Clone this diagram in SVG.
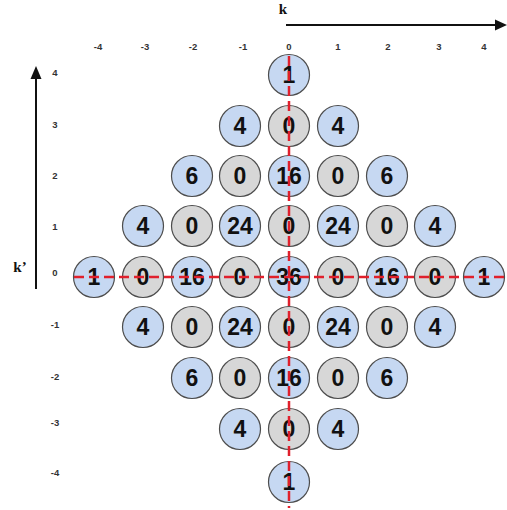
<svg xmlns="http://www.w3.org/2000/svg" width="507" height="510" viewBox="0 0 507 510">
<defs>
<style>
.b{fill:#c6d8f2;stroke:#4d4d4d;stroke-width:1.2}
.g{fill:#d7d7d7;stroke:#4d4d4d;stroke-width:1.2}
.v{font-family:"Liberation Sans",Arial,sans-serif;font-weight:bold;font-size:23px;fill:#111;text-anchor:middle}
.t{font-family:"Liberation Sans",Arial,sans-serif;font-weight:bold;font-size:9.5px;fill:#333;text-anchor:middle}
.ax{font-family:"Liberation Serif","Times New Roman",serif;font-weight:bold;font-size:15px;fill:#111;text-anchor:middle}
.d{stroke:#e0202c;stroke-width:2.5;stroke-dasharray:10 5;fill:none}
</style>
</defs>
<rect width="507" height="510" fill="#fff"/>
<g id="axes">
<line x1="286" y1="25" x2="497" y2="25" stroke="#111" stroke-width="2"/>
<polygon points="507,25 495,19.5 495,30.5" fill="#111"/>
<line x1="36" y1="76" x2="36" y2="289" stroke="#111" stroke-width="2"/>
<polygon points="36,66 30.5,79 41.5,79" fill="#111"/>
<text class="ax" x="283" y="14">k</text>
<text class="ax" x="20" y="272">k’</text>
</g>
<g id="col-labels">
<text class="t" x="98" y="50">-4</text>
<text class="t" x="145" y="50">-3</text>
<text class="t" x="193" y="50">-2</text>
<text class="t" x="243" y="50">-1</text>
<text class="t" x="289" y="50">0</text>
<text class="t" x="338" y="50">1</text>
<text class="t" x="388" y="50">2</text>
<text class="t" x="439" y="50">3</text>
<text class="t" x="484" y="50">4</text>
</g>
<g id="row-labels">
<text class="t" x="55" y="76">4</text>
<text class="t" x="55" y="128">3</text>
<text class="t" x="55" y="179">2</text>
<text class="t" x="55" y="230">1</text>
<text class="t" x="55" y="276">0</text>
<text class="t" x="55" y="328">-1</text>
<text class="t" x="55" y="380">-2</text>
<text class="t" x="55" y="426">-3</text>
<text class="t" x="55" y="476">-4</text>
</g>
<g id="r4"><g id="n_0_4"><circle class="b" cx="289" cy="75" r="20.5"/><text class="v" x="289" y="83">1</text></g></g>
<g id="r3">
<g id="n_m1_3"><circle class="b" cx="240" cy="126" r="20.5"/><text class="v" x="240" y="134">4</text></g>
<g id="n_0_3"><circle class="g" cx="289" cy="126" r="20.5"/><text class="v" x="289" y="134">0</text></g>
<g id="n_1_3"><circle class="b" cx="338" cy="126" r="20.5"/><text class="v" x="338" y="134">4</text></g>
</g>
<g id="r2">
<g id="n_m2_2"><circle class="b" cx="192" cy="176" r="20.5"/><text class="v" x="192" y="184">6</text></g>
<g id="n_m1_2"><circle class="g" cx="240" cy="176" r="20.5"/><text class="v" x="240" y="184">0</text></g>
<g id="n_0_2"><circle class="b" cx="289" cy="176" r="20.5"/><text class="v" x="289" y="184">16</text></g>
<g id="n_1_2"><circle class="g" cx="338" cy="176" r="20.5"/><text class="v" x="338" y="184">0</text></g>
<g id="n_2_2"><circle class="b" cx="387" cy="176" r="20.5"/><text class="v" x="387" y="184">6</text></g>
</g>
<g id="r1">
<g id="n_m3_1"><circle class="b" cx="143" cy="226" r="20.5"/><text class="v" x="143" y="234">4</text></g>
<g id="n_m2_1"><circle class="g" cx="192" cy="226" r="20.5"/><text class="v" x="192" y="234">0</text></g>
<g id="n_m1_1"><circle class="b" cx="240" cy="226" r="20.5"/><text class="v" x="240" y="234">24</text></g>
<g id="n_0_1"><circle class="g" cx="289" cy="226" r="20.5"/><text class="v" x="289" y="234">0</text></g>
<g id="n_1_1"><circle class="b" cx="338" cy="226" r="20.5"/><text class="v" x="338" y="234">24</text></g>
<g id="n_2_1"><circle class="g" cx="387" cy="226" r="20.5"/><text class="v" x="387" y="234">0</text></g>
<g id="n_3_1"><circle class="b" cx="435" cy="226" r="20.5"/><text class="v" x="435" y="234">4</text></g>
</g>
<g id="r0">
<g id="n_m4_0"><circle class="b" cx="94" cy="277" r="20.5"/><text class="v" x="94" y="285">1</text></g>
<g id="n_m3_0"><circle class="g" cx="143" cy="277" r="20.5"/><text class="v" x="143" y="285">0</text></g>
<g id="n_m2_0"><circle class="b" cx="192" cy="277" r="20.5"/><text class="v" x="192" y="285">16</text></g>
<g id="n_m1_0"><circle class="g" cx="240" cy="277" r="20.5"/><text class="v" x="240" y="285">0</text></g>
<g id="n_0_0"><circle class="b" cx="289" cy="277" r="20.5"/><text class="v" x="289" y="285">36</text></g>
<g id="n_1_0"><circle class="g" cx="338" cy="277" r="20.5"/><text class="v" x="338" y="285">0</text></g>
<g id="n_2_0"><circle class="b" cx="387" cy="277" r="20.5"/><text class="v" x="387" y="285">16</text></g>
<g id="n_3_0"><circle class="g" cx="435" cy="277" r="20.5"/><text class="v" x="435" y="285">0</text></g>
<g id="n_4_0"><circle class="b" cx="484" cy="277" r="20.5"/><text class="v" x="484" y="285">1</text></g>
</g>
<g id="rm1">
<g id="n_m3_m1"><circle class="b" cx="143" cy="327" r="20.5"/><text class="v" x="143" y="335">4</text></g>
<g id="n_m2_m1"><circle class="g" cx="192" cy="327" r="20.5"/><text class="v" x="192" y="335">0</text></g>
<g id="n_m1_m1"><circle class="b" cx="240" cy="327" r="20.5"/><text class="v" x="240" y="335">24</text></g>
<g id="n_0_m1"><circle class="g" cx="289" cy="327" r="20.5"/><text class="v" x="289" y="335">0</text></g>
<g id="n_1_m1"><circle class="b" cx="338" cy="327" r="20.5"/><text class="v" x="338" y="335">24</text></g>
<g id="n_2_m1"><circle class="g" cx="387" cy="327" r="20.5"/><text class="v" x="387" y="335">0</text></g>
<g id="n_3_m1"><circle class="b" cx="435" cy="327" r="20.5"/><text class="v" x="435" y="335">4</text></g>
</g>
<g id="rm2">
<g id="n_m2_m2"><circle class="b" cx="192" cy="378" r="20.5"/><text class="v" x="192" y="386">6</text></g>
<g id="n_m1_m2"><circle class="g" cx="240" cy="378" r="20.5"/><text class="v" x="240" y="386">0</text></g>
<g id="n_0_m2"><circle class="b" cx="289" cy="378" r="20.5"/><text class="v" x="289" y="386">16</text></g>
<g id="n_1_m2"><circle class="g" cx="338" cy="378" r="20.5"/><text class="v" x="338" y="386">0</text></g>
<g id="n_2_m2"><circle class="b" cx="387" cy="378" r="20.5"/><text class="v" x="387" y="386">6</text></g>
</g>
<g id="rm3">
<g id="n_m1_m3"><circle class="b" cx="240" cy="429" r="20.5"/><text class="v" x="240" y="437">4</text></g>
<g id="n_0_m3"><circle class="g" cx="289" cy="429" r="20.5"/><text class="v" x="289" y="437">0</text></g>
<g id="n_1_m3"><circle class="b" cx="338" cy="429" r="20.5"/><text class="v" x="338" y="437">4</text></g>
</g>
<g id="rm4"><g id="n_0_m4"><circle class="b" cx="289" cy="482" r="20.5"/><text class="v" x="289" y="490">1</text></g></g>
<g id="connectors">
<line class="d" x1="74" y1="277" x2="506" y2="277"/>
<line class="d" x1="289" y1="56" x2="289" y2="508"/>
</g>
</svg>
